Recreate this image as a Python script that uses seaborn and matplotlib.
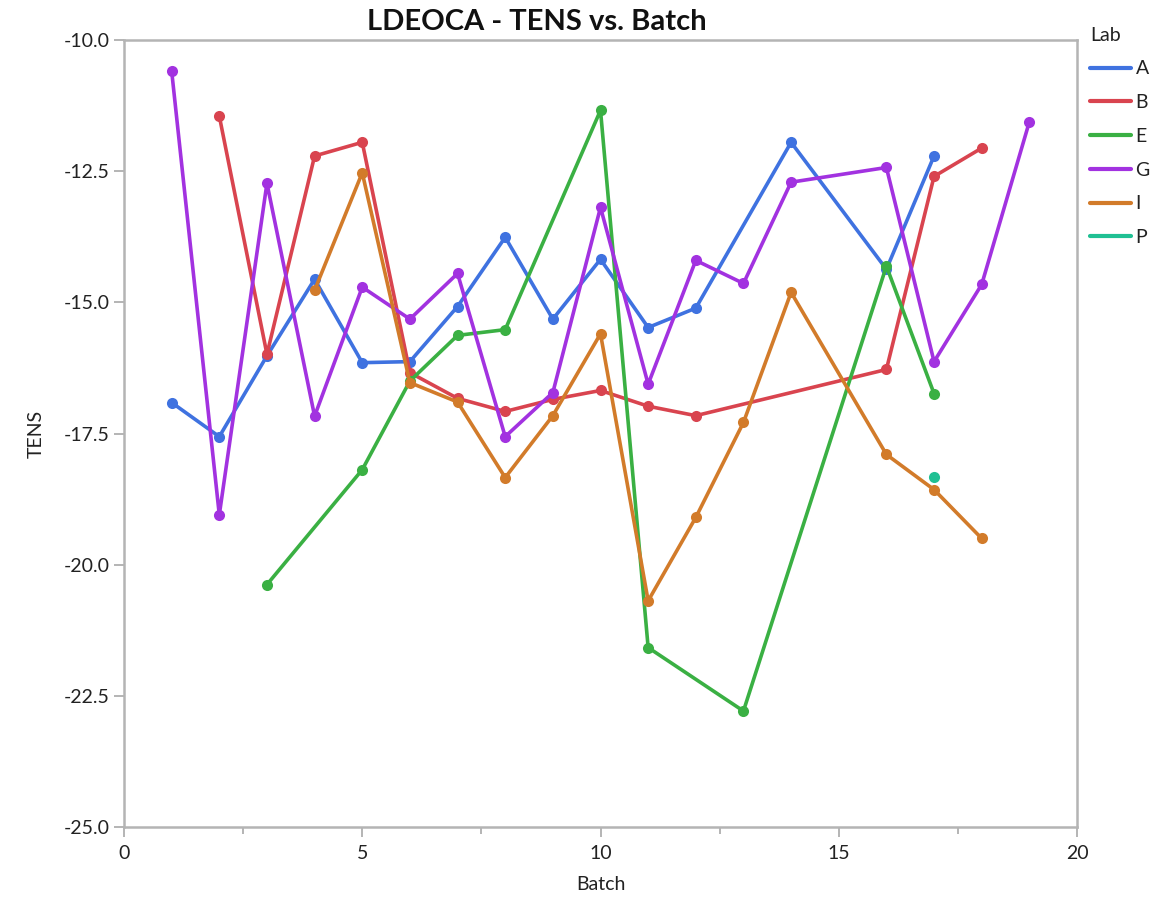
import numpy as np
import pandas as pd
import matplotlib
matplotlib.use("Agg")
import matplotlib.pyplot as plt
from matplotlib.lines import Line2D
from matplotlib.ticker import MultipleLocator, FormatStrFormatter
import seaborn as sns

# TENS measurements per lab, by batch number
batch_A = [1, 2, 3, 4, 5, 6, 7, 8, 9, 10, 11, 12, 14, 16, 17]
tens_A = [-16.91, -17.56, -16.02, -14.56, -16.15, -16.13, -15.08, -13.76, -15.32,
          -14.18, -15.48, -15.11, -11.95, -14.37, -12.21]

batch_B = [2, 3, 4, 5, 6, 7, 8, 9, 10, 11, 12, 16, 17, 18]
tens_B = [-11.45, -15.99, -12.21, -11.95, -16.34, -16.83, -17.08, -16.85, -16.68,
          -16.98, -17.16, -16.28, -12.60, -12.06]

batch_E = [3, 5, 6, 7, 8, 10, 11, 13, 16, 17]
tens_E = [-20.38, -18.19, -16.50, -15.63, -15.52, -11.34, -21.58, -22.79, -14.31, -16.74]

batch_G = [1, 2, 3, 4, 5, 6, 7, 8, 9, 10, 11, 12, 13, 14, 16, 17, 18, 19]
tens_G = [-10.59, -19.05, -12.73, -17.17, -14.71, -15.32, -14.45, -17.56, -16.72,
          -13.19, -16.56, -14.20, -14.64, -12.71, -12.43, -16.13, -14.66, -11.56]

batch_I = [4, 5, 6, 7, 8, 9, 10, 11, 12, 13, 14, 16, 17, 18]
tens_I = [-14.77, -12.53, -16.53, -16.90, -18.34, -17.16, -15.60, -20.69, -19.10,
          -17.29, -14.81, -17.90, -18.57, -19.50]

batch_P = [17]
tens_P = [-18.32]

labs = ["A", "B", "E", "G", "I", "P"]
lab_colors = ["#3F72E0", "#D9444F", "#3AB043", "#A232E0", "#D27B2A", "#20C093"]

frames = []
for lab, xs, ys in zip(labs,
                       [batch_A, batch_B, batch_E, batch_G, batch_I, batch_P],
                       [tens_A, tens_B, tens_E, tens_G, tens_I, tens_P]):
    frames.append(pd.DataFrame({"Batch": xs, "TENS": ys, "Lab": lab}))
df = pd.concat(frames, ignore_index=True)

sns.set_theme(style="white")
plt.rcParams["font.family"] = ["Lato", "DejaVu Sans"]

fig = plt.figure(figsize=(11.53, 8.99), dpi=100)
ax = fig.add_axes([124 / 1153, 1 - 827 / 899, (1077 - 124) / 1153, (827 - 40) / 899])

palette = dict(zip(labs, lab_colors))
sns.lineplot(data=df, x="Batch", y="TENS", hue="Lab", hue_order=labs,
             palette=palette, marker="o", markersize=8, markeredgewidth=0,
             linewidth=2.6, sort=True, estimator=None, legend=False, ax=ax)

ax.set_xlim(0, 20)
ax.set_ylim(-25, -10)
ax.xaxis.set_major_locator(MultipleLocator(5))
ax.xaxis.set_minor_locator(MultipleLocator(2.5))
ax.yaxis.set_major_locator(MultipleLocator(2.5))
ax.yaxis.set_major_formatter(FormatStrFormatter("%.1f"))

for side in ["left", "bottom", "top", "right"]:
    ax.spines[side].set_visible(True)
    ax.spines[side].set_color("#B4B4B4")
    ax.spines[side].set_linewidth(1.8)

ax.tick_params(axis="both", which="major", direction="out", length=7, width=1.2,
               color="#A8A8A8", labelsize=14, labelcolor="#222222",
               bottom=True, left=True)
ax.tick_params(axis="x", which="major", pad=6)
ax.tick_params(axis="y", which="major", pad=3)
ax.tick_params(axis="x", which="minor", direction="out", length=5, width=1.2,
               color="#A8A8A8", bottom=True)

ax.set_xlabel("Batch", fontsize=14, color="#222222", labelpad=10)
ax.set_ylabel("TENS", fontsize=14, color="#222222", labelpad=14)
fig.text(537 / 1153, 1 - 22 / 899, "LDEOCA - TENS vs. Batch", fontsize=21,
         fontweight="bold", color="#111111", ha="center", va="center")

handles = [Line2D([0], [0], color=c, linewidth=3) for c in lab_colors]
leg = fig.legend(handles, labs, title="Lab", loc="upper left",
                 bbox_to_anchor=(1082 / 1153, 1 - 19 / 899), frameon=False,
                 fontsize=14, title_fontsize=14, handlelength=2.1,
                 handletextpad=0.25, labelspacing=0.86, borderaxespad=0)
leg._legend_box.align = "left"
leg._legend_box.sep = 12
for t in leg.get_texts():
    t.set_color("#222222")
leg.get_title().set_color("#222222")

fig.savefig("out.png", dpi=100)
